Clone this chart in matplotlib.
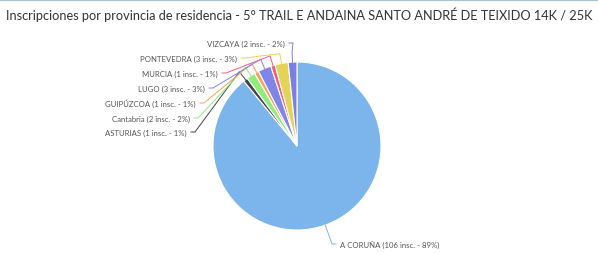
import numpy as np
import matplotlib.pyplot as plt

# --------------------------
# datos
# --------------------------
titulo = "Inscripciones por provincia de residencia - 5° TRAIL E ANDAINA SANTO ANDRÉ DE TEIXIDO 14K / 25K"
provincias = ["A CORUÑA", "ASTURIAS", "Cantabria", "GUIPÚZCOA", "LUGO", "MURCIA", "PONTEVEDRA", "VIZCAYA"]
inscritos = [106, 1, 2, 1, 3, 1, 3, 2]
colores = ["#7cb5ec", "#434348", "#90ed7d", "#f7a35c", "#8085e9", "#f15c80", "#e4d354", "#7b7fe3"]

# posición de cada etiqueta en px (x del extremo cercano al círculo, y desde arriba)
pos_etiquetas = [(340, 245, "left"), (187, 133, "right"), (190, 119, "right"),
                 (196, 104, "right"), (205, 89, "right"), (218, 74, "right"),
                 (237, 59, "right"), (285, 44, "right")]

W, H = 598, 255
cx, cy, r = 297, H - 147, 84

fig = plt.figure(figsize=(W / 100, H / 100), dpi=100)
ax = fig.add_axes([0, 0, 1, 1])

total = sum(inscritos)
ax.pie(inscritos, colors=colores, startangle=90, counterclock=False,
       center=(cx, cy), radius=r, frame=True,
       wedgeprops=dict(edgecolor="white", linewidth=0.8))

# etiquetas con conectores
ang0 = 0.0
for nombre, v, col, (lx, ly, ha) in zip(provincias, inscritos, colores, pos_etiquetas):
    pct = round(v / total * 100)
    ang = np.radians(ang0 + v / total * 360 / 2)  # medido en sentido horario desde arriba
    ang0 += v / total * 360
    ex, ey = cx + r * np.sin(ang), cy + r * np.cos(ang)
    ox, oy = cx + (r + 10) * np.sin(ang), cy + (r + 10) * np.cos(ang)
    LY = H - ly
    d = 4 if ha == "right" else -4
    ax.plot([lx + d, lx + 2 * d, ox, ex], [LY, LY, oy, ey], color=col, lw=0.7,
            solid_joinstyle="round")
    ax.text(lx, LY, f"{nombre} ({v} insc. - {pct}%)", ha=ha, va="center",
            fontsize=5.6, color="#555555", family="Lato")

ax.text(6, H - 15, titulo, ha="left", va="center", fontsize=9.2, color="#333333",
        family="Lato")

# línea superior
ax.plot([0, W], [H - 0.8, H - 0.8], color="#a7c3cc", lw=1.6)

ax.set_xlim(0, W)
ax.set_ylim(0, H)
ax.set_aspect("auto")
ax.axis("off")

plt.savefig("out.png", dpi=100)
